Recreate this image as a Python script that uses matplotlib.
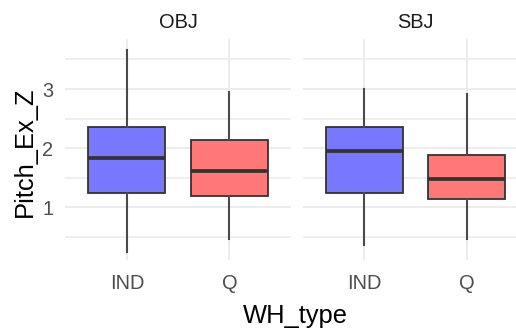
import matplotlib
matplotlib.use("Agg")
import matplotlib.pyplot as plt

# ---- data ----
facets = ["OBJ", "SBJ"]
categories = ["IND", "Q"]
fill_colors = ["#7878FF", "#FF7878"]

obj_whislo = [0.25, 0.46]
obj_q1 = [1.25, 1.19]
obj_med = [1.83, 1.62]
obj_q3 = [2.35, 2.14]
obj_whishi = [3.66, 2.95]

sbj_whislo = [0.36, 0.46]
sbj_q1 = [1.25, 1.135]
sbj_med = [1.95, 1.48]
sbj_q3 = [2.35, 1.88]
sbj_whishi = [3.00, 2.91]

y_ticks = [1, 2, 3]
y_minor = [0.5, 1.5, 2.5, 3.5]

panels = {
    "OBJ": (obj_whislo, obj_q1, obj_med, obj_q3, obj_whishi),
    "SBJ": (sbj_whislo, sbj_q1, sbj_med, sbj_q3, sbj_whishi),
}

plt.rcParams['font.family'] = ['Liberation Sans', 'DejaVu Sans']

W, H = 516, 330
fig = plt.figure(figsize=(W / 100, H / 100), dpi=100)

panel_left = [65.3, 302.5]
panel_w = 225.7
panel_top, panel_bot = 39.3, 260.0

edge = "#333333"
for i, f in enumerate(facets):
    ax = fig.add_axes([panel_left[i] / W, 1 - panel_bot / H, panel_w / W, (panel_bot - panel_top) / H])
    wl, q1, md, q3, wh = panels[f]
    stats = []
    for j, c in enumerate(categories):
        stats.append(dict(label=c, whislo=wl[j], q1=q1[j], med=md[j], q3=q3[j], whishi=wh[j], fliers=[]))
    pos = list(range(1, len(categories) + 1))
    b = ax.bxp(stats, positions=pos, widths=0.75, patch_artist=True, showcaps=False,
               showfliers=False,
               boxprops=dict(edgecolor=edge, linewidth=1.3),
               whiskerprops=dict(color='#4A4A4A', linewidth=1.5),
               medianprops=dict(color=edge, linewidth=2.7, solid_capstyle='butt'),
               zorder=3)
    for patch, col in zip(b['boxes'], fill_colors):
        patch.set_facecolor(col)
    ax.set_xlim(0.4, 2.6)
    ax.set_ylim(0.11, 3.84)
    ax.set_xticks(pos)
    ax.set_xticklabels(categories)
    ax.set_yticks(y_ticks)
    ax.set_yticks(y_minor, minor=True)
    if i == 0:
        ax.set_yticklabels([str(t) for t in y_ticks])
    else:
        ax.set_yticklabels([])
    ax.tick_params(axis='both', which='both', length=0)
    ax.tick_params(axis='x', pad=10, labelsize=14.4, labelcolor='#4D4D4D')
    ax.tick_params(axis='y', pad=8.5, labelsize=14.4, labelcolor='#4D4D4D')
    ax.grid(True, which='major', color='#EBEBEB', linewidth=1.3, zorder=0)
    ax.grid(True, which='minor', axis='y', color='#EBEBEB', linewidth=1.1, zorder=0)
    ax.set_axisbelow(True)
    for s in ax.spines.values():
        s.set_visible(False)
    cx = (panel_left[i] + panel_w / 2) / W
    fig.text(cx, 1 - 28.3 / H, f, ha='center', va='baseline', fontsize=14.4, color='#1A1A1A')

fig.text(25 / W, 1 - 152 / H, "Pitch_Ex_Z", rotation=90, ha='center', va='center', fontsize=18.4, color='black')
fig.text(295.6 / W, 1 - 323 / H, "WH_type", ha='center', va='baseline', fontsize=18.4, color='black')

fig.savefig("out.png", dpi=100)
